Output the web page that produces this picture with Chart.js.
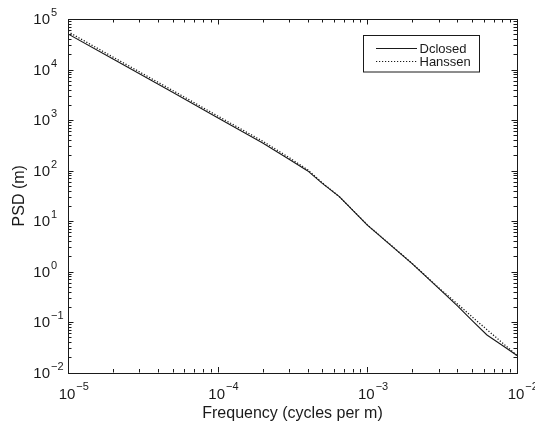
<!DOCTYPE html>
<html>
<head>
<meta charset="utf-8">
<script src="https://cdn.jsdelivr.net/npm/chart.js@4"></script>
<style>
html,body{margin:0;padding:0;background:#fff;}
#wrap{width:535px;height:423px;}
</style>
</head>
<body>
<div id="wrap"><canvas id="c" width="535" height="423"></canvas></div>
<script>
// ---- data ----
const freq = [1e-5, 2e-5, 5e-5, 1e-4, 2e-4, 3e-4, 4e-4, 5e-4, 6.5e-4, 1e-3, 2e-3, 3e-3, 4e-3, 5e-3, 6.3e-3, 8e-3, 1e-2];
const dclosed = [50500, 16100, 3550, 1107, 351, 167, 98, 55.7, 30.3, 8.3, 1.42, 0.465, 0.208, 0.108, 0.0553, 0.0342, 0.0217];
const hanssen = [56000, 17600, 3850, 1200, 380, 180, 103, 57, 30.3, 8.4, 1.43, 0.475, 0.228, 0.127, 0.0705, 0.0385, 0.0217];
const seriesNames = ["Dclosed", "Hanssen"];
const xTickExps = [-5, -4, -3, -2];
const yTickExps = [-2, -1, 0, 1, 2, 3, 4, 5];
const xTitle = "Frequency (cycles per m)";
const yTitle = "PSD (m)";

const FONT = "'Liberation Sans', Arial, Helvetica, sans-serif";
const INK = "#1a1a1a";

function pts(ys){ return freq.map((f,i)=>({x:f, y:ys[i]})); }

const axesPlugin = {
  id: 'matlabAxes',
  afterDraw(chart){
    const ctx = chart.ctx;
    const {left, right, top, bottom} = chart.chartArea;
    const xs = chart.scales.x, ys = chart.scales.y;
    ctx.save();
    ctx.strokeStyle = INK;
    ctx.lineWidth = 1;
    // box
    ctx.strokeRect(Math.round(left)+0.5, Math.round(top)+0.5, Math.round(right-left), Math.round(bottom-top));
    // ticks
    const majLen = 5.5, minLen = 3.5;
    ctx.beginPath();
    for (let d = xTickExps[0]; d <= xTickExps[xTickExps.length-1]; d++){
      for (let m = 1; m <= 9; m++){
        const v = m*Math.pow(10,d);
        if (v < xs.min*0.999 || v > xs.max*1.001) continue;
        const px = Math.round(xs.getPixelForValue(v))+0.5;
        const L = m===1 ? majLen : minLen;
        ctx.moveTo(px, bottom); ctx.lineTo(px, bottom-L);
        ctx.moveTo(px, top); ctx.lineTo(px, top+L);
      }
    }
    for (let d = yTickExps[0]; d <= yTickExps[yTickExps.length-1]; d++){
      for (let m = 1; m <= 9; m++){
        const v = m*Math.pow(10,d);
        if (v < ys.min*0.999 || v > ys.max*1.001) continue;
        const py = Math.round(ys.getPixelForValue(v))+0.5;
        const L = m===1 ? majLen : minLen;
        ctx.moveTo(left, py); ctx.lineTo(left+L, py);
        ctx.moveTo(right, py); ctx.lineTo(right-L, py);
      }
    }
    ctx.stroke();

    // tick labels
    ctx.fillStyle = INK;
    ctx.textBaseline = 'alphabetic';
    const baseFont = "15px " + FONT, expFont = "11px " + FONT;
    const expStr = e => (e < 0 ? "\u2212" + Math.abs(e) : String(e));
    xTickExps.forEach(e => {
      const px = xs.getPixelForValue(Math.pow(10,e));
      ctx.font = baseFont;
      const w10 = ctx.measureText("10").width;
      const x0 = px - 1 - w10/2;
      const yb = bottom + 26.5;
      ctx.textAlign = 'left';
      ctx.fillText("10", x0, yb);
      ctx.font = expFont;
      ctx.fillText(expStr(e), x0 + w10 + 1, yb - 9);
    });
    yTickExps.forEach(e => {
      const py = ys.getPixelForValue(Math.pow(10,e));
      ctx.font = baseFont;
      ctx.textAlign = 'right';
      const xr = left - 18;
      const yb = py + 5.3;
      ctx.fillText("10", xr, yb);
      ctx.font = expFont;
      ctx.textAlign = 'left';
      ctx.fillText(expStr(e), xr + 1, yb - 8);
    });

    // axis titles
    ctx.font = "16px " + FONT;
    ctx.textAlign = 'center';
    ctx.textBaseline = 'alphabetic';
    ctx.fillText(xTitle, (left+right)/2, bottom + 45.5);
    ctx.save();
    ctx.translate(23.5, (top+bottom)/2);
    ctx.rotate(-Math.PI/2);
    ctx.fillText(yTitle, 0, 0);
    ctx.restore();

    // legend
    const bx = 363.5, by = 35.5, bw = 116, bh = 36.5;
    ctx.fillStyle = '#fff';
    ctx.fillRect(bx, by, bw, bh);
    ctx.strokeStyle = INK;
    ctx.lineWidth = 1;
    ctx.strokeRect(bx, by, bw, bh);
    const rows = [48.5, 61.5];
    const dashes = [[], [1.2, 1.8]];
    seriesNames.forEach((name, i) => {
      ctx.beginPath();
      ctx.setLineDash(dashes[i]);
      ctx.lineWidth = i===0 ? 1 : 1.2;
      ctx.moveTo(376, rows[i]); ctx.lineTo(417, rows[i]);
      ctx.stroke();
      ctx.setLineDash([]);
      ctx.fillStyle = INK;
      ctx.font = "13px " + FONT;
      ctx.textAlign = 'left';
      ctx.textBaseline = 'alphabetic';
      ctx.fillText(name, 419.5, rows[i] + 4.5);
    });
    ctx.restore();
  }
};

new Chart(document.getElementById('c'), {
  type: 'line',
  data: {
    datasets: [
      { label: seriesNames[0], data: pts(dclosed), borderColor: INK, borderWidth: 1.1, pointRadius: 0, tension: 0, fill: false },
      { label: seriesNames[1], data: pts(hanssen), borderColor: INK, borderWidth: 1.3, borderDash: [1.2, 1.8], pointRadius: 0, tension: 0, fill: false }
    ]
  },
  options: {
    responsive: false,
    animation: false,
    devicePixelRatio: 1,
    layout: { padding: { left: 68, right: 18, top: 19, bottom: 50.5 } },
    plugins: { legend: { display: false }, tooltip: { enabled: false } },
    scales: {
      x: { type: 'logarithmic', min: Math.pow(10, xTickExps[0]), max: Math.pow(10, xTickExps[xTickExps.length-1]), display: false },
      y: { type: 'logarithmic', min: Math.pow(10, yTickExps[0]), max: Math.pow(10, yTickExps[yTickExps.length-1]), display: false }
    }
  },
  plugins: [axesPlugin]
});
</script>
</body>
</html>
